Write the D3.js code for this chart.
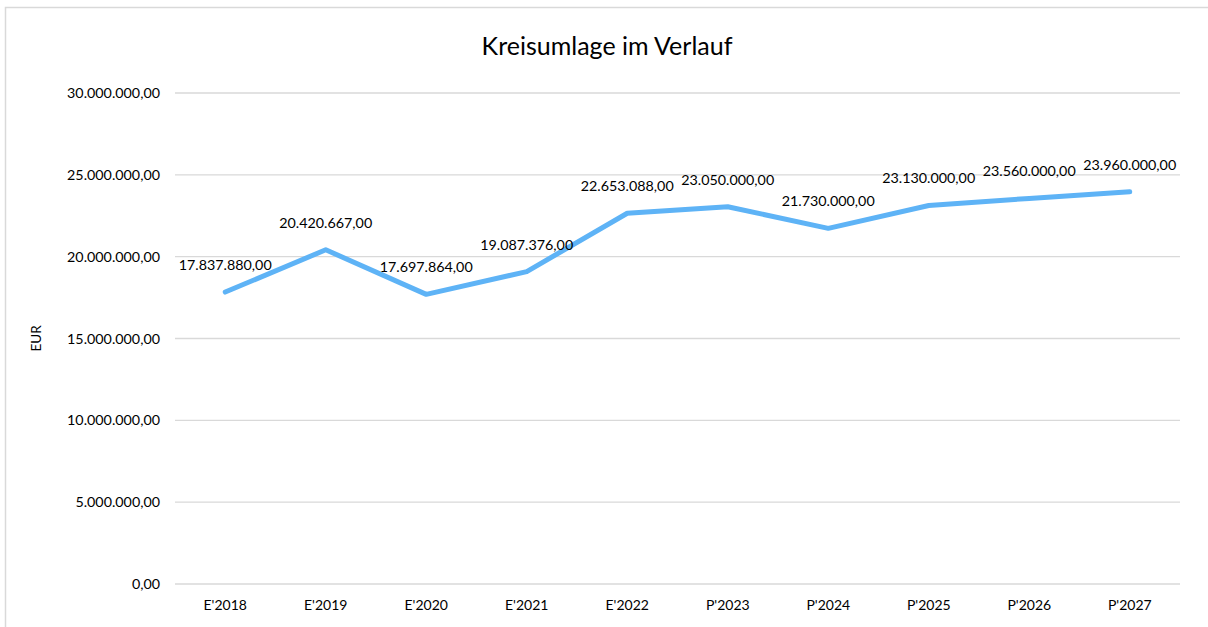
<!DOCTYPE html>
<html>
<head>
<meta charset="utf-8">
<script src="https://cdn.jsdelivr.net/npm/d3@7"></script>
<style>
  body { margin: 0; background: #fff; }
  svg { font-family: Lato, "Open Sans", sans-serif; }
  .grid line { stroke: #d9d9d9; stroke-width: 1.3; }
</style>
</head>
<body>
<svg width="1208" height="627"></svg>
<script>
var categories = ["E'2018", "E'2019", "E'2020", "E'2021", "E'2022", "P'2023", "P'2024", "P'2025", "P'2026", "P'2027"];
var values = [17837880, 20420667, 17697864, 19087376, 22653088, 23050000, 21730000, 23130000, 23560000, 23960000];
var yTicks = [0, 5000000, 10000000, 15000000, 20000000, 25000000, 30000000];

var svg = d3.select("svg"),
    margin = {top: 93, right: 28, bottom: 43, left: 175},
    width = 1208 - margin.left - margin.right,
    height = 627 - margin.top - margin.bottom;

// chart frame
svg.append("rect")
    .attr("x", 5.5).attr("y", 7.5)
    .attr("width", 1220).attr("height", 640)
    .attr("fill", "none").attr("stroke", "#d9d9d9").attr("stroke-width", 1.5);

var fmt = d3.formatLocale({decimal: ",", thousands: ".", grouping: [3], currency: ["", "€"]}).format(",.2f");

var x = d3.scaleBand().domain(categories).range([0, width]);
var y = d3.scaleLinear().domain([0, 30000000]).range([height, 0]);

var g = svg.append("g")
    .attr("transform", "translate(" + margin.left + "," + margin.top + ")");

g.append("g")
    .attr("class", "grid")
    .selectAll("line").data(yTicks).enter().append("line")
    .attr("x1", 0).attr("x2", width)
    .attr("y1", function(d) { return y(d); })
    .attr("y2", function(d) { return y(d); });

g.selectAll(".ytick").data(yTicks).enter().append("text")
    .attr("class", "ytick")
    .attr("x", -15)
    .attr("y", function(d) { return y(d); })
    .attr("dy", "0.35em")
    .attr("text-anchor", "end")
    .attr("font-size", 14.3)
    .attr("fill", "#000")
    .text(function(d) { return fmt(d); });

g.selectAll(".xtick").data(categories).enter().append("text")
    .attr("class", "xtick")
    .attr("x", function(d) { return x(d) + x.bandwidth() / 2; })
    .attr("y", height + 21)
    .attr("dy", "0.35em")
    .attr("text-anchor", "middle")
    .attr("font-size", 14)
    .attr("fill", "#000")
    .text(function(d) { return d; });

var line = d3.line()
    .x(function(d, i) { return x(categories[i]) + x.bandwidth() / 2; })
    .y(function(d) { return y(d); });

g.append("path")
    .datum(values)
    .attr("d", line)
    .attr("fill", "none")
    .attr("stroke", "#5eb3f6")
    .attr("stroke-width", 5)
    .attr("stroke-linecap", "round")
    .attr("stroke-linejoin", "round");

g.selectAll(".lbl").data(values).enter().append("text")
    .attr("class", "lbl")
    .attr("x", function(d, i) { return x(categories[i]) + x.bandwidth() / 2; })
    .attr("y", function(d) { return y(d) - 27; })
    .attr("dy", "0.35em")
    .attr("text-anchor", "middle")
    .attr("font-size", 14.3)
    .attr("fill", "#000")
    .text(function(d) { return fmt(d); });

svg.append("text")
    .attr("x", 607).attr("y", 46)
    .attr("dy", "0.35em")
    .attr("text-anchor", "middle")
    .attr("font-size", 25)
    .attr("fill", "#000")
    .text("Kreisumlage im Verlauf");

svg.append("text")
    .attr("transform", "translate(36," + (margin.top + y(15000000)) + ") rotate(-90)")
    .attr("dy", "0.35em")
    .attr("text-anchor", "middle")
    .attr("font-size", 13.5)
    .attr("fill", "#000")
    .text("EUR");
</script>
</body>
</html>
